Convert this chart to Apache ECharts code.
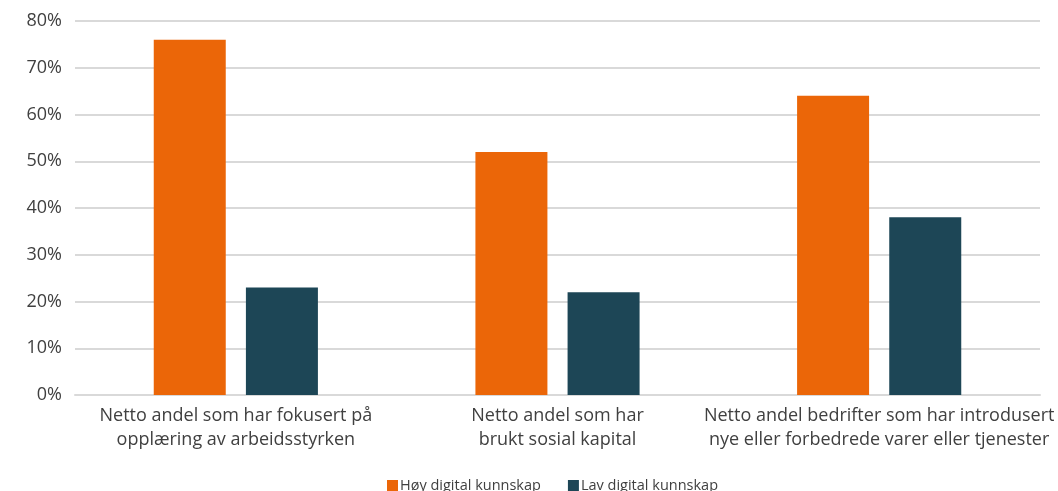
<!DOCTYPE html>
<html>
<head>
<meta charset="utf-8">
<script src="https://cdn.jsdelivr.net/npm/echarts@6/dist/echarts.min.js"></script>
<style>html,body{margin:0;padding:0;background:#fff;}#c{width:1058px;height:491px;}</style>
</head>
<body>
<div id="c"></div>
<script>
const categories = [
  "Netto andel som har fokusert på\nopplæring av arbeidsstyrken",
  "Netto andel som har\nbrukt sosial kapital",
  "Netto andel bedrifter som har introdusert\nnye eller forbedrede varer eller tjenester"
];
const seriesNames = ["Høy digital kunnskap", "Lav digital kunnskap"];
const hoyValues = [76, 52, 64];
const lavValues = [23, 22, 38];
const colors = ["#EB6608", "#1D4656"];

const chart = echarts.init(document.getElementById('c'));
chart.setOption({
  animation: false,
  textStyle: { fontFamily: 'Open Sans' },
  grid: { left: 75, right: 18, top: 21, bottom: 96, containLabel: false },
  legend: {
    bottom: -7,
    left: 382,
    itemWidth: 11, itemHeight: 11, itemGap: 27,
    icon: 'rect',
    textStyle: { color: '#404040', fontSize: 14.5, fontFamily: 'Open Sans', padding: [0,0,0,-3] },
    data: seriesNames
  },
  xAxis: {
    type: 'category',
    data: categories,
    axisLine: { lineStyle: { color: '#d9d9d9', width: 2 } },
    axisTick: { show: false },
    axisLabel: { color: '#404040', fontSize: 18, lineHeight: 24, margin: 9, interval: 0 }
  },
  yAxis: {
    type: 'value', min: 0, max: 80, interval: 10,
    axisLabel: { formatter: '{value}%', color: '#404040', fontSize: 18, margin: 13 },
    splitLine: { lineStyle: { color: '#d9d9d9', width: 2 } },
    axisLine: { show: false }, axisTick: { show: false }
  },
  series: [
    { name: seriesNames[0], type: 'bar', data: hoyValues, barWidth: 72, barGap: '28%', itemStyle: { color: colors[0] } },
    { name: seriesNames[1], type: 'bar', data: lavValues, barWidth: 72, itemStyle: { color: colors[1] } }
  ]
});
</script>
</body>
</html>
